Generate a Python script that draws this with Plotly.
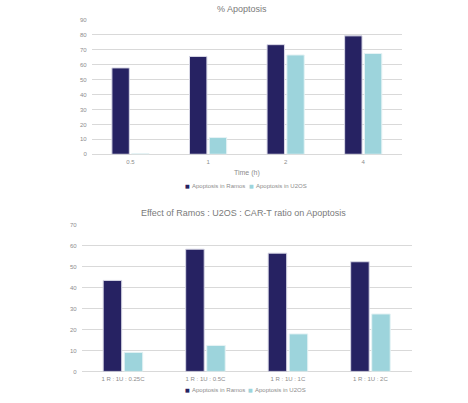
import plotly.graph_objects as go

# Chart 1 data
time_cats = ["0.5", "1", "2", "4"]
ramos_time = [57.9, 65.6, 73.5, 79.4]
u2os_time = [0.4, 11.2, 66.6, 67.6]

# Chart 2 data
ratio_cats = ["1 R : 1U : 0.25C", "1 R : 1U : 0.5C", "1 R : 1U : 1C", "1 R : 1U : 2C"]
ramos_ratio = [43.4, 58.3, 56.4, 52.3]
u2os_ratio = [9.1, 12.4, 17.9, 27.4]

series_names = ["Apoptosis in Ramos", "Apoptosis in U2OS"]

DARK = "#262262"
LIGHT = "#9DD4DC"
EDGE = "#d8d8e6"
FONT = "Liberation Sans, Arial, sans-serif"
GRID = "#d9d9d9"
TXT = "#8c8c8c"
TITLE = "#7a7a7a"

fig = go.Figure()
fig.add_trace(go.Bar(x=time_cats, y=ramos_time, name=series_names[0], marker=dict(color=DARK, line=dict(color=EDGE, width=1)), xaxis="x", yaxis="y", showlegend=False))
fig.add_trace(go.Bar(x=time_cats, y=u2os_time, name=series_names[1], marker=dict(color=LIGHT, line=dict(color="#e6f3f5", width=1)), xaxis="x", yaxis="y", showlegend=False))
fig.add_trace(go.Bar(x=ratio_cats, y=ramos_ratio, name=series_names[0], marker=dict(color=DARK, line=dict(color=EDGE, width=1)), xaxis="x2", yaxis="y2", showlegend=False))
fig.add_trace(go.Bar(x=ratio_cats, y=u2os_ratio, name=series_names[1], marker=dict(color=LIGHT, line=dict(color="#e6f3f5", width=1)), xaxis="x2", yaxis="y2", showlegend=False))

axis_common = dict(showline=False, ticks="", tickfont=dict(size=6, color=TXT, family=FONT), ticklabelstandoff=3)
yaxis_common = dict(showgrid=True, gridcolor=GRID, gridwidth=1, zeroline=True, zerolinecolor=GRID, zerolinewidth=1,
                    ticks="", tickfont=dict(size=6, color=TXT, family=FONT), dtick=10, ticklabelstandoff=4)

annotations = [
    dict(text="% Apoptosis", x=242/468, y=1 - 6/403, xref="paper", yref="paper", showarrow=False,
         font=dict(size=9, color=TITLE, family=FONT), xanchor="center", yanchor="middle"),
    dict(text="Effect of Ramos : U2OS : CAR-T ratio on Apoptosis", x=243/468, y=1 - 213/403, xref="paper", yref="paper", showarrow=False,
         font=dict(size=9, color=TITLE, family=FONT), xanchor="center", yanchor="middle"),
]

# legend entries (small square + label), one row per chart
legend_rows = [(186, [187, 251]), (393, [187, 250])]
for ly, xs in legend_rows:
    for name, col, lx in zip(series_names, [DARK, LIGHT], xs):
        annotations.append(dict(text="■", x=lx/468, y=1 - ly/403, xref="paper", yref="paper", showarrow=False,
                                font=dict(size=5, color=col, family="DejaVu Sans"), xanchor="center", yanchor="middle"))
        annotations.append(dict(text=name, x=(lx + 2.5)/468, y=1 - ly/403, xref="paper", yref="paper", showarrow=False,
                                font=dict(size=6, color=TXT, family=FONT), xanchor="left", yanchor="middle"))

fig.update_layout(
    width=468, height=403,
    margin=dict(l=0, r=0, t=0, b=0),
    paper_bgcolor="white", plot_bgcolor="white",
    font=dict(family=FONT, color=TXT),
    barmode="group", bargap=0.49, bargroupgap=0.12,
    showlegend=False,
    xaxis=dict(domain=[0.196, 0.859], anchor="y", title=dict(text="Time (h)", font=dict(size=7, color=TXT), standoff=5), **axis_common),
    yaxis=dict(domain=[0.619, 0.957], anchor="x", range=[0, 90], **yaxis_common),
    xaxis2=dict(domain=[0.1746, 0.8797], anchor="y2", **axis_common),
    yaxis2=dict(domain=[0.072, 0.4417], anchor="x2", range=[0, 70], **yaxis_common),
    annotations=annotations,
)

fig.write_html("out.html")
